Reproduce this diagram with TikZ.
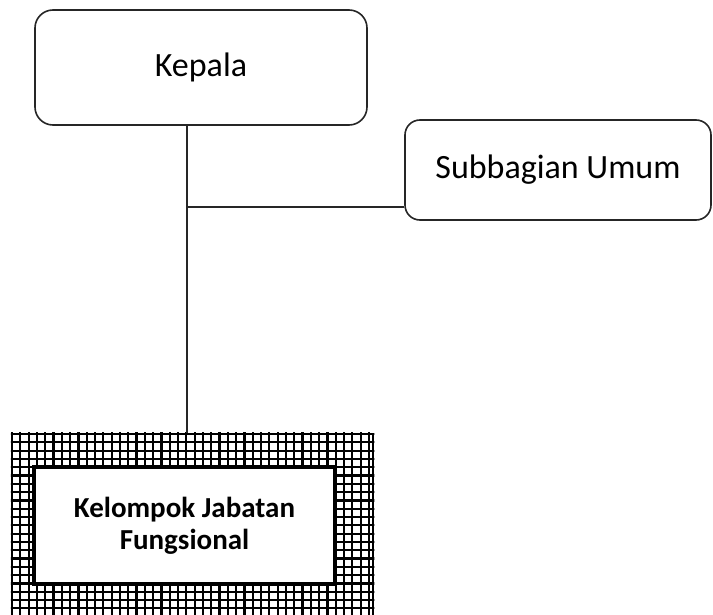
\documentclass[tikz,border=0pt]{standalone}
\usepackage{fontspec}
\setmainfont{Carlito}
\usetikzlibrary{positioning}

\begin{document}
\begin{tikzpicture}[x=1pt,y=1pt,
	box/.style={draw=black!85, line width=1.6pt, rounded corners=18pt, font=\fontsize{34}{40}\selectfont}]
\useasboundingbox (0,0) rectangle (713,-615);
\node [box, minimum width=332pt, minimum height=115pt] (a) at (201,-67.5) {Kepala};
\node [box, minimum width=306pt, minimum height=100pt, rounded corners=15pt] (b) at (558,-170) {Subbagian Umum};
\node [draw, line width=2.5pt, minimum width=361pt, minimum height=190pt] (c) at (192.5,-529) {};
\begin{scope}
	\clip (c.south west) rectangle (c.north east);
	\draw [line width=2.2pt, step=8.3pt, shift={(12,-434)}] (-10,10) grid (380,-200);
\end{scope}
\node [draw, fill=white, line width=3.5pt, minimum width=301pt, minimum height=117pt, align=center,
	font=\fontsize{29}{32}\selectfont\bfseries] (d) at (184.5,-525.5) {Kelompok Jabatan\\Fungsional};
\coordinate (j) at (187,-207);
\draw [line width=1.6pt, black!85] (j |- a.south) -- (j |- c.north);
\draw [line width=1.6pt, black!85] (j) -- (b.west |- j);
\end{tikzpicture}
\end{document}
